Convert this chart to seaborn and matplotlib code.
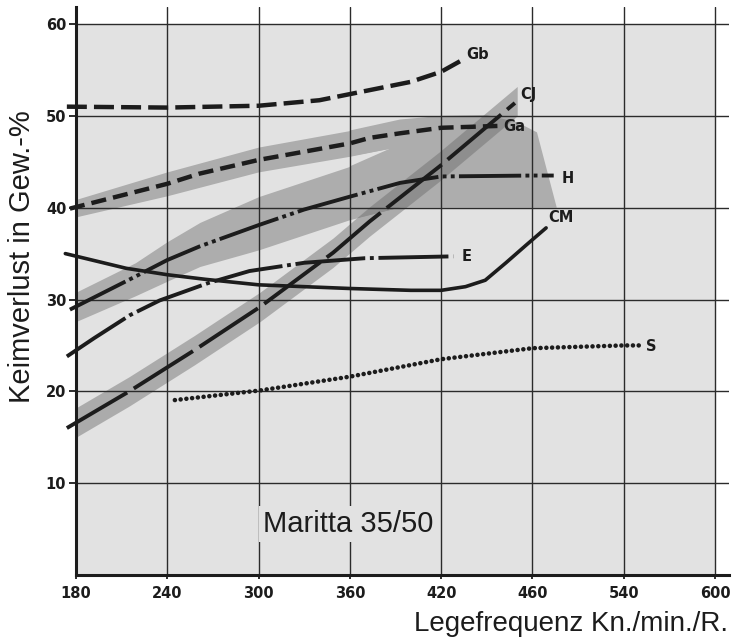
import matplotlib
matplotlib.use("Agg")
import matplotlib.pyplot as plt
from matplotlib.patches import Polygon, Rectangle
import seaborn as sns
import numpy as np

# Keimverlust (Gew.-%) ueber Legefrequenz (Kn./min./R.)
gb_x = [174, 240, 300, 340, 370, 400, 420, 433]
gb_y = [51.0, 50.9, 51.1, 51.7, 52.7, 53.7, 54.8, 56.0]

ga_x = [176, 240, 261, 300, 360, 373, 393, 420, 457]
ga_y = [39.9, 42.6, 43.7, 45.2, 47.0, 47.6, 48.1, 48.7, 48.9]

cj_x = [174, 215, 258, 301, 349, 373, 419, 468.5]
cj_y = [16.0, 20.0, 24.5, 29.2, 35.1, 38.5, 44.5, 51.4]

h_x = [176, 219, 240, 261.5, 300, 330, 360, 393, 420, 480, 494]
h_y = [28.9, 32.5, 34.3, 35.8, 38.1, 39.8, 41.2, 42.7, 43.4, 43.5, 43.5]

cm_x = [173, 213, 240, 265, 300, 360, 400, 420, 436, 449, 462.6, 475.7, 489]
cm_y = [35.0, 33.4, 32.7, 32.2, 31.6, 31.2, 31.0, 31.0, 31.4, 32.1, 34.0, 35.9, 37.8]

e_x = [174, 192, 215.5, 235, 267, 294, 330, 370, 428]
e_y = [23.8, 25.8, 28.3, 29.9, 31.8, 33.1, 34.0, 34.5, 34.7]

s_x = [245, 301, 360, 420, 480, 540, 550]
s_y = [19.05, 20.1, 21.6, 23.5, 24.7, 25.0, 25.0]

# Streubereiche
ga_band_x = [180, 240, 300, 360, 393]
ga_band_lo = [39.0, 41.3, 43.9, 45.6, 46.7]
ga_band_hi = [40.9, 43.9, 46.6, 48.4, 49.5]

h_band_x = [180, 219, 240, 261.5, 300, 360, 393]
h_band_lo = [27.6, 30.4, 32.0, 33.6, 35.4, 38.7, 40.1]
h_band_hi = [30.8, 34.0, 36.3, 38.4, 41.2, 44.5, 46.1]

cj_band_x = [180, 215, 258, 301, 349, 373, 419, 470]
cj_band_lo = [15.0, 18.4, 22.9, 27.6, 33.5, 36.9, 42.9, 50.0]
cj_band_hi = [18.2, 21.6, 26.1, 30.8, 36.7, 40.1, 46.1, 53.2]

# gemeinsamer Streubereich rechts (Ga/H)
area_x = [360, 393, 420, 450, 470, 483, 496, 393, 360, 360, 386, 360]
area_y = [48.4, 49.6, 50.0, 50.1, 49.3, 48.2, 40.0, 40.0, 38.7, 44.5, 46.4, 45.6]

x_ticks = [180, 240, 300, 360, 420, 480, 540, 600]
x_tick_labels = ["180", "240", "300", "360", "420", "460", "540", "600"]
y_ticks = [10, 20, 30, 40, 50, 60]

sns.set_theme(style="ticks")
plt.rcParams["font.family"] = ["DejaVu Sans"]

bg = "#e2e2e2"
band = "#adadad"
ink = "#1c1c1c"

fig = plt.figure(figsize=(7.32, 6.44), dpi=100)
ax = fig.add_axes([0.1038, 0.1071, 0.8921, 0.8820])
ax.set_facecolor("white")
ax.set_axisbelow("line")

ax.add_patch(Rectangle((180, 0), 420, 60, facecolor=bg, lw=0, zorder=0.3))

ax.fill_between(ga_band_x, ga_band_lo, ga_band_hi, color=band, lw=0, zorder=1)
ax.fill_between(h_band_x, h_band_lo, h_band_hi, color=band, lw=0, zorder=1)
ax.add_patch(Polygon(np.column_stack([area_x, area_y]), closed=True,
                     facecolor=band, lw=0, zorder=1))
ax.fill_between(cj_band_x, cj_band_lo, cj_band_hi, color="#6a6a6a", alpha=0.45,
                lw=0, zorder=1.2)

curves = [
    ("Gb", gb_x, gb_y, 3.2, (0, (4.5, 1.6)), (3.6, 4.3)),
    ("Ga", ga_x, ga_y, 3.2, (0, (3.4, 1.6)), (4.0, -0.7)),
    ("CJ", cj_x, cj_y, 2.8, (0, (18, 2.0)), (3.6, 5.8)),
    ("H", h_x, h_y, 2.8, (0, (16, 1.1, 1, 1.1, 1, 1.1)), (5.8, -1.8)),
    ("CM", cm_x, cm_y, 2.6, "-", (1.4, 7.2)),
    ("E", e_x, e_y, 2.8, (0, (18, 1.2, 1, 1.2)), (5.8, 0)),
    ("S", s_x, s_y, 3.3, (0, (0.01, 1.25)), (5.0, -0.7)),
]

for name, xs, ys, lw, ls, off in curves:
    sns.lineplot(x=xs, y=ys, ax=ax, color=ink, lw=lw, linestyle=ls,
                 errorbar=None, clip_on=False, zorder=3,
                 dash_capstyle="round" if name == "S" else "butt",
                 solid_capstyle="round")
    ax.annotate(name, xy=(xs[-1], ys[-1]), xytext=off, textcoords="offset points",
                ha="left", va="center", fontsize=10.5, fontweight="bold", color=ink)

ax.text(302.9, 4.68, "Maritta 35/50", family="Liberation Sans", fontsize=21,
        color=ink, ha="left", va="baseline", zorder=4,
        bbox=dict(facecolor=bg, edgecolor="none", pad=3))

ax.set_xlim(180, 609.2)
ax.set_ylim(0, 61.85)
ax.set_xticks(x_ticks)
ax.set_xticklabels(x_tick_labels)
ax.set_yticks(y_ticks)
ax.set_yticklabels([str(v) for v in y_ticks])
ax.grid(True, color="#2b2b2b", lw=1.0)

for side in ["top", "right"]:
    ax.spines[side].set_visible(False)
for side in ["left", "bottom"]:
    ax.spines[side].set_linewidth(2.2)
    ax.spines[side].set_color(ink)

ax.tick_params(axis="y", length=5, width=1.3, color=ink, pad=2,
               labelsize=10.5, labelcolor=ink)
ax.tick_params(axis="x", length=3, width=1.3, color=ink, pad=5,
               labelsize=10.5, labelcolor=ink)
for lab in ax.get_xticklabels() + ax.get_yticklabels():
    lab.set_fontweight("bold")

ax.set_xlabel("Legefrequenz Kn./min./R.", family="Liberation Sans", fontsize=20,
              color=ink, loc="right")
ax.xaxis.set_label_coords(0.9985, -0.086)
ax.xaxis.label.set_va("center")
ax.set_ylabel("Keimverlust in Gew.-%", family="Liberation Sans", fontsize=21,
              color=ink)
ax.yaxis.set_label_coords(-0.082, 0.56)
ax.yaxis.label.set_va("center")

fig.savefig("out.png", dpi=100)
